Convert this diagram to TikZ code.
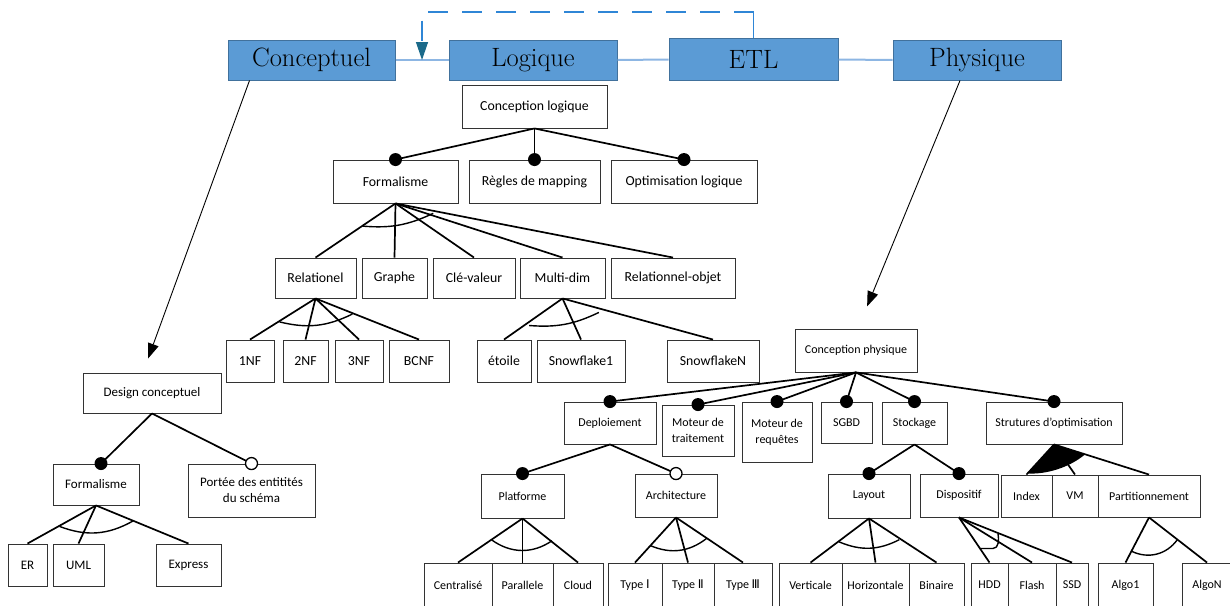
\documentclass[tikz,border=0pt]{standalone}
\usepackage{fontspec}
\setsansfont{Carlito}
\newfontfamily\romfont{DejaVu Sans}
\usetikzlibrary{arrows.meta}
\definecolor{phasefill}{HTML}{5B9BD5}
\definecolor{phaseline}{HTML}{41719C}
\definecolor{linkblue}{HTML}{8DB6E3}
\definecolor{loopblue}{HTML}{2F86D6}
\definecolor{looptip}{HTML}{1B6A8A}

\begin{document}
\begin{tikzpicture}[x=1pt,y=-1pt,
  phase/.style={draw=phaseline, line width=1pt, fill=phasefill, inner sep=0pt,
    font=\rmfamily\fontsize{26.5}{30}\selectfont},
  feat/.style={draw=black!80, line width=0.9pt, fill=white, inner sep=0pt, align=center},
  fL/.style={feat, font=\sffamily\fontsize{13.8}{16}\selectfont},
  fC/.style={feat, font=\sffamily\fontsize{13}{16}\selectfont},
  fP/.style={feat, font=\sffamily\fontsize{12}{16}\selectfont},
  wh/.style 2 args={minimum width=#1pt, minimum height=#2pt},
  edge/.style={draw=black, line width=1.7pt},
  grp/.style={draw=black, line width=1.4pt},
  mand/.style={circle, fill=black, inner sep=0pt, minimum size=13pt},
  optn/.style={circle, draw=black, line width=1.3pt, fill=white, inner sep=0pt, minimum size=12pt},
  link/.style={draw=linkblue, line width=2pt},
  loopline/.style={draw=loopblue, line width=1.3pt},
  bigarrow/.style={draw=black, line width=0.9pt, -{Triangle[length=15pt,width=11pt]}},
]
\useasboundingbox (0,0) rectangle (1230,605);

% ---------- phases ----------
\node[phase, wh={167}{40}] (conc) at (311.5,60) {Conceptuel};
\node[phase, wh={168}{40}] (logi) at (533,60) {Logique};
\node[phase, wh={169}{42}] (etl) at (753.5,59.5) {ETL};
\node[phase, wh={168}{40}] (phys) at (977,60) {Physique};
\draw[link] (conc.east) -- (logi.west);
\draw[link] (logi.east) -- (etl.west);
\draw[link] (etl.east) -- (phys.west);

% feedback loop from ETL back to the logical phase
\coordinate (fb) at (422,60);
\draw[loopline] (etl.north) -- ++(0,-26) coordinate (fbr);
\draw[loopline, dash pattern=on 20pt off 14pt, -{Triangle[length=18pt,width=12pt,fill=looptip,color=looptip]}]
  (fbr) -| (fb);

% ---------- logical design ----------
\node[fL, wh={145}{43}] (clog) at (534.5,106.5) {Conception logique};
\node[fL, wh={125}{43}] (lform) at (395.5,181.5) {Formalisme};
\node[fL, wh={131}{43}] (regles) at (534.5,181.5) {Règles de mapping};
\node[fL, wh={146}{43}] (optl) at (684,181.5) {Optimisation logique};
\node[fL, wh={81}{40}] (rel) at (315.5,278) {Relationel};
\node[fL, wh={65}{40}] (graphe) at (394.5,278) {Graphe};
\node[fL, wh={82}{40}] (cle) at (474,278) {Clé-valeur};
\node[fL, wh={85}{40}] (multi) at (562.5,278) {Multi-dim};
\node[fL, wh={124}{40}] (relobj) at (673,278) {Relationnel-objet};
\node[fL, wh={48}{42}] (nf1) at (250,361) {1NF};
\node[fL, wh={45}{42}] (nf2) at (305.5,361) {2NF};
\node[fL, wh={48}{42}] (nf3) at (359,361) {3NF};
\node[fL, wh={60}{42}] (bcnf) at (419,361) {BCNF};
\node[fL, wh={54}{42}] (etoile) at (504,361) {étoile};
\node[fL, wh={88}{42}] (snow1) at (581,361) {Snowflake1};
\node[fL, wh={92}{42}] (snowN) at (713,361) {SnowflakeN};

\draw[edge] (clog.south) -- (lform.north);
\draw[edge] (clog.south) -- (regles.north);
\draw[edge] (clog.south) -- (optl.north);
\node[mand] (dlform) at (lform.north) {};
\node[mand] (dregles) at (regles.north) {};
\node[mand] (doptl) at (optl.north) {};

\foreach \c in {rel,graphe,cle,multi,relobj} \draw[edge] (lform.south) -- (\c.north);
\draw[grp] ([shift={(145.5:40)}]lform.south) to[bend right=15] ([shift={(14.7:39)}]lform.south);
\foreach \c in {nf1,nf2,nf3,bcnf} \draw[edge] (rel.south) -- (\c.north);
\draw[grp] ([shift={(147:43)}]rel.south) to[bend right=20] ([shift={(23:40)}]rel.south);
\foreach \c in {etoile,snow1,snowN} \draw[edge] (multi.south) -- (\c.north);
\draw[grp] ([shift={(141:43)}]multi.south) to[bend right=15] ([shift={(21:39)}]multi.south);

% ---------- conceptual design ----------
\node[fC, wh={138}{40}] (dcon) at (152,393) {Design conceptuel};
\node[fC, wh={86}{41}] (cform) at (96,484.5) {Formalisme};
\node[fC, wh={127}{53}] (portee) at (251.5,490.5) {Portée des entitités\\du schéma};
\node[fC, wh={39}{42}] (er) at (27.5,565) {ER};
\node[fC, wh={51}{42}] (uml) at (78.5,565) {UML};
\node[fC, wh={65}{42}] (express) at (188.5,565) {Express};

\draw[edge] (dcon.south) -- ([xshift=5pt]cform.north);
\draw[edge] (dcon.south) -- (portee.north);
\node[mand] (dcform) at ([xshift=5pt]cform.north) {};
\node[optn] (dportee) at (portee.north) {};
\foreach \c in {er,uml,express} \draw[edge] (cform.south) -- (\c.north);
\draw[grp] ([shift={(150:42)}]cform.south) to[bend right=25] ([shift={(23:40)}]cform.south);

% ---------- physical design ----------
\node[fP, wh={122}{43}] (cphys) at (856,350.5) {Conception physique};
\node[fP, wh={92}{42}] (deploi) at (610,423) {Deploiement};
\node[fP, wh={72}{51}] (mtrait) at (698,430.5) {Moteur de\\traitement};
\node[fP, wh={70}{60}] (mreq) at (777,432) {Moteur de\\requêtes};
\node[fP, wh={51}{41}] (sgbd) at (846.5,422.5) {SGBD};
\node[fP, wh={65}{42}] (stock) at (914.5,423) {Stockage};
\node[fP, wh={136}{42}] (strut) at (1054,423) {Strutures d'optimisation};
\node[fP, wh={83}{44}] (platf) at (522.5,496) {Platforme};
\node[fP, wh={82}{43}] (archi) at (676,495.5) {Architecture};
\node[fP, wh={82}{44}] (layout) at (869,496) {Layout};
\node[fP, wh={78}{43}] (dispo) at (959,495.5) {Dispositif};
\node[fP, wh={51}{42}] (index) at (1026.5,496) {Index};
\node[fP, wh={46}{42}] (vm) at (1075,496) {VM};
\node[fP, wh={102}{42}] (partit) at (1149,496) {Partitionnement};
\node[fP, wh={68}{44}] (central) at (458,585) {Centralisé};
\node[fP, wh={61}{44}] (parall) at (522.5,585) {Parallele};
\node[fP, wh={50}{44}] (cloud) at (578,585) {Cloud};
\node[fP, wh={54}{44}] (typeI) at (635,585) {Type {\romfont Ⅰ}};
\node[fP, wh={52}{44}] (typeII) at (688,585) {Type {\romfont Ⅱ}};
\node[fP, wh={58}{44}] (typeIII) at (743,585) {Type {\romfont Ⅲ}};
\node[fP, wh={63}{44}] (vert) at (810.5,585) {Verticale};
\node[fP, wh={67}{44}] (horiz) at (875.5,585) {Horizontale};
\node[fP, wh={55}{44}] (binaire) at (936.5,585) {Binaire};
\node[fP, wh={37}{44}] (hdd) at (989.5,585) {HDD};
\node[fP, wh={48}{44}] (flash) at (1032,585) {Flash};
\node[fP, wh={32}{44}] (ssd) at (1072,585) {SSD};
\node[fP, wh={55}{44}] (algo1) at (1125.5,585) {Algo1};
\node[fP, wh={50}{44}] (algoN) at (1207,585) {AlgoN};

\foreach \c in {deploi,mtrait,mreq,sgbd,stock,strut} \draw[edge] (cphys.south) -- (\c.north);
\foreach \c in {deploi,mtrait,mreq,sgbd,stock,strut} \node[mand] (d\c) at (\c.north) {};

\draw[edge] (deploi.south) -- (platf.north);
\draw[edge] (deploi.south) -- (archi.north);
\node[mand] (dplatf) at (platf.north) {};
\node[optn] (darchi) at (archi.north) {};

\draw[edge] (stock.south) -- (layout.north);
\draw[edge] (stock.south) -- (dispo.north);
\node[mand] (dlayout) at (layout.north) {};
\node[mand] (ddispo) at (dispo.north) {};

\foreach \c in {central,parall,cloud} \draw[edge] (platf.south) -- (\c.north);
\draw[grp] ([shift={(145:37.5)}]platf.south) to[bend right=35] ([shift={(37:37)}]platf.south);
\foreach \c in {typeI,typeII,typeIII} \draw[edge] (archi.south) -- (\c.north);
\draw[grp] ([shift={(132:38)}]archi.south) to[bend right=30] ([shift={(35:37)}]archi.south);
\foreach \c in {vert,horiz,binaire} \draw[edge] (layout.south) -- (\c.north);
\draw[grp] ([shift={(142:38)}]layout.south) to[bend right=25] ([shift={(35:37)}]layout.south);
\foreach \c in {hdd,flash,ssd} \draw[edge] (dispo.south) -- (\c.north);
\draw[grp] ([shift={(21,31)}]dispo.south) -- ([shift={(34,31)}]dispo.south)
  .. controls ([shift={(40,31)}]dispo.south) and ([shift={(40,22)}]dispo.south) .. ([shift={(39,16)}]dispo.south);

\foreach \c in {index,vm,partit} \draw[edge] (strut.south) -- (\c.north);
\fill[black] (strut.south) -- ([shift={(-26,29)}]strut.south)
  .. controls ([shift={(-9,30)}]strut.south) and ([shift={(14,24)}]strut.south) .. ([shift={(31,10)}]strut.south) -- cycle;
\foreach \c in {algo1,algoN} \draw[edge] (partit.south) -- (\c.north);
\draw[grp] ([shift={(117:38)}]partit.south) to[bend right=40] ([shift={(38:36)}]partit.south);

% ---------- phase to design links ----------
\draw[bigarrow, shorten >=15pt] ([xshift=-62pt]conc.south) -- ([xshift=-9pt]dcon.north);
\draw[bigarrow, shorten >=24pt] ([xshift=-17pt]phys.south) -- ([xshift=2pt]cphys.north);
\end{tikzpicture}
\end{document}
